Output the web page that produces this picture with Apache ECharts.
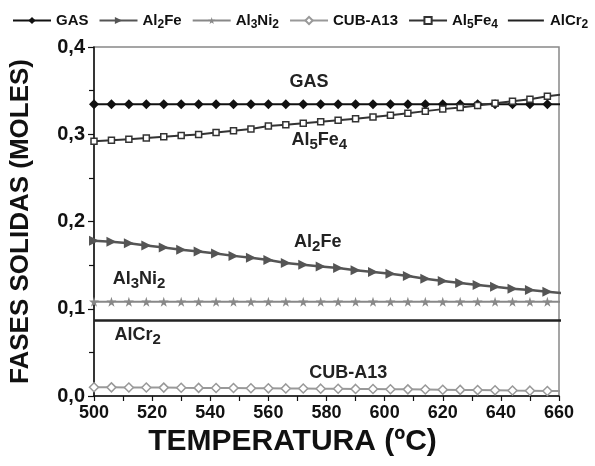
<!DOCTYPE html>
<html>
<head>
<meta charset="utf-8">
<script src="https://cdn.jsdelivr.net/npm/echarts@6/dist/echarts.min.js"></script>
<style>
  html, body { margin: 0; padding: 0; background: #fff; }
  #chart { width: 595px; height: 466px; }
</style>
</head>
<body>
<div id="chart"></div>
<script>
// temperatura (ºC)
const temps = [500, 506, 512, 518, 524, 530, 536, 542, 548, 554, 560, 566, 572, 578,
  584, 590, 596, 602, 608, 614, 620, 626, 632, 638, 644, 650, 656, 662];

// fases (moles)
const gas = [0.3345, 0.3345, 0.3345, 0.3345, 0.3345, 0.3345, 0.3345, 0.3345, 0.3345, 0.3345,
  0.3345, 0.3345, 0.3345, 0.3345, 0.3345, 0.3345, 0.3345, 0.3345, 0.3345, 0.3345,
  0.3345, 0.3345, 0.3345, 0.3345, 0.3345, 0.3345, 0.3345, 0.3345];
const al2fe = [0.1779, 0.1768, 0.1750, 0.1725, 0.1702, 0.1675, 0.1655, 0.1634, 0.1606, 0.1584,
  0.1558, 0.1525, 0.1504, 0.1485, 0.1466, 0.1440, 0.1420, 0.1400, 0.1375, 0.1345,
  0.1318, 0.1295, 0.1272, 0.1252, 0.1230, 0.1214, 0.1195, 0.1175];
const al3ni2 = [0.108, 0.108, 0.108, 0.108, 0.108, 0.108, 0.108, 0.108, 0.108, 0.108,
  0.108, 0.108, 0.108, 0.108, 0.108, 0.108, 0.108, 0.108, 0.108, 0.108,
  0.108, 0.108, 0.108, 0.108, 0.108, 0.108, 0.108, 0.108];
const cubA13 = [0.0100, 0.0099, 0.0098, 0.0097, 0.0096, 0.0094, 0.0093, 0.0092, 0.0091, 0.0089,
  0.0088, 0.0087, 0.0086, 0.0084, 0.0083, 0.0081, 0.0080, 0.0078, 0.0076, 0.0074,
  0.0072, 0.0070, 0.0068, 0.0066, 0.0063, 0.0061, 0.0058, 0.0056];
const al5fe4 = [0.2920, 0.2932, 0.2944, 0.2956, 0.2970, 0.2985, 0.2998, 0.3020, 0.3040, 0.3060,
  0.3095, 0.3110, 0.3125, 0.3142, 0.3160, 0.3177, 0.3198, 0.3219, 0.3242, 0.3265,
  0.3288, 0.3307, 0.3330, 0.3356, 0.3379, 0.3402, 0.3436, 0.3460];
const alcr2 = [0.0865, 0.0865, 0.0865, 0.0865, 0.0865, 0.0865, 0.0865, 0.0865, 0.0865, 0.0865,
  0.0865, 0.0865, 0.0865, 0.0865, 0.0865, 0.0865, 0.0865, 0.0865, 0.0865, 0.0865,
  0.0865, 0.0865, 0.0865, 0.0865, 0.0865, 0.0865, 0.0865, 0.0865];

// nombres con subindices (rich text)
const richNames = {
  "GAS": "{n|GAS}",
  "Al2Fe": "{n|Al}{s|2}{n|Fe}",
  "Al3Ni2": "{n|Al}{s|3}{n|Ni}{s|2}",
  "CUB-A13": "{n|CUB-A13}",
  "Al5Fe4": "{n|Al}{s|5}{n|Fe}{s|4}",
  "AlCr2": "{n|AlCr}{s|2}",
};

const FONT = "Liberation Sans";
const starPath = "path://M50,0 L61,35 L98,35 L68,57 L79,91 L50,70 L21,91 L32,57 L2,35 L39,35 Z";
// linea sola para la leyenda de AlCr2 (los M extremos fijan la caja)
const plainLine = "path://M0,0 M0,4 L40,4 L40,6.2 L0,6.2 Z M40,10";

const pairs = (vals) => temps.map((t, i) => [t, vals[i]]);

function label(name, coord, size) {
  return {
    symbol: "circle",
    symbolSize: 0,
    silent: true,
    data: [{ coord: coord }],
    label: {
      show: true,
      position: "inside",
      formatter: richNames[name],
      rich: {
        n: { fontFamily: FONT, fontWeight: "bold", fontSize: size, color: "#222" },
        s: { fontFamily: FONT, fontWeight: "bold", fontSize: size - 3, color: "#222", padding: [9, 0, 0, 0] },
      },
    },
  };
}

const chart = echarts.init(document.getElementById("chart"));

const option = {
  animation: false,
  backgroundColor: "#fff",
  legend: {
    data: ["GAS", "Al2Fe", "Al3Ni2", "CUB-A13", "Al5Fe4", { name: "AlCr2", icon: plainLine }],
    left: 7,
    right: 0,
    top: 8,
    itemWidth: 38,
    itemHeight: 9,
    itemGap: 10,
    formatter: (name) => richNames[name],
    textStyle: {
      rich: {
        n: { fontFamily: FONT, fontWeight: "bold", fontSize: 15, color: "#111" },
        s: { fontFamily: FONT, fontWeight: "bold", fontSize: 12, color: "#111", padding: [8, 0, 0, 0] },
      },
    },
  },
  grid: {
    left: 91,
    right: 36,
    top: 47,
    bottom: 70,
    show: true,
    borderColor: "#888",
    borderWidth: 1.5,
  },
  xAxis: {
    type: "value",
    min: 500,
    max: 660,
    interval: 20,
    name: "TEMPERATURA (ºC)",
    nameLocation: "middle",
    nameGap: 31,
    nameTextStyle: {
      fontFamily: FONT, fontWeight: "bold", fontSize: 30, color: "#111",
      padding: [0, 68, 0, 0],
    },
    axisLine: { lineStyle: { color: "#111", width: 1.5 } },
    axisTick: { length: 5, lineStyle: { color: "#111", width: 1.2 } },
    minorTick: { show: true, splitNumber: 2, length: 5, lineStyle: { color: "#111", width: 1.2 } },
    splitLine: { show: false },
    axisLabel: { fontFamily: FONT, fontWeight: "bold", fontSize: 18, color: "#111", margin: 8 },
  },
  yAxis: {
    type: "value",
    min: 0,
    max: 0.4,
    interval: 0.1,
    name: "FASES SOLIDAS (MOLES)",
    nameLocation: "middle",
    nameGap: 60,
    nameTextStyle: { fontFamily: FONT, fontWeight: "bold", fontSize: 26, color: "#111" },
    axisLine: { lineStyle: { color: "#111", width: 1.5 } },
    axisTick: { length: 6, lineStyle: { color: "#111", width: 1.2 } },
    minorTick: { show: true, splitNumber: 2, length: 5, lineStyle: { color: "#111", width: 1.2 } },
    splitLine: { show: false },
    axisLabel: {
      fontFamily: FONT, fontWeight: "bold", fontSize: 20, color: "#111", margin: 9,
      formatter: (v) => v.toFixed(1).replace(".", ","),
    },
  },
  series: [
    {
      name: "GAS",
      type: "line",
      data: pairs(gas),
      symbol: "diamond",
      symbolSize: 10,
      lineStyle: { color: "#111", width: 2 },
      itemStyle: { color: "#111" },
      markPoint: label("GAS", [574, 0.36], 18),
    },
    {
      name: "Al2Fe",
      type: "line",
      data: pairs(al2fe),
      symbol: "triangle",
      symbolRotate: -90,
      symbolSize: 10,
      lineStyle: { color: "#555", width: 2.5 },
      itemStyle: { color: "#555" },
      markPoint: label("Al2Fe", [577, 0.176], 18),
    },
    {
      name: "Al3Ni2",
      type: "line",
      data: pairs(al3ni2),
      symbol: starPath,
      symbolSize: 10,
      lineStyle: { color: "#888", width: 2 },
      itemStyle: { color: "#888" },
      markPoint: label("Al3Ni2", [515.5, 0.134], 18),
    },
    {
      name: "CUB-A13",
      type: "line",
      data: pairs(cubA13),
      symbol: "diamond",
      symbolSize: 9,
      lineStyle: { color: "#999", width: 2 },
      itemStyle: { color: "#fff", borderColor: "#999", borderWidth: 1.5 },
      markPoint: label("CUB-A13", [587.5, 0.026], 18),
    },
    {
      name: "Al5Fe4",
      type: "line",
      data: pairs(al5fe4),
      symbol: "rect",
      symbolSize: 6,
      lineStyle: { color: "#333", width: 2 },
      itemStyle: { color: "#fff", borderColor: "#333", borderWidth: 1.5 },
      markPoint: label("Al5Fe4", [577.5, 0.293], 18),
    },
    {
      name: "AlCr2",
      type: "line",
      data: pairs(alcr2),
      symbol: "none",
      lineStyle: { color: "#222", width: 2.5 },
      itemStyle: { color: "#222" },
      markPoint: label("AlCr2", [515, 0.07], 18),
    },
  ],
};

chart.setOption(option);
</script>
</body>
</html>
